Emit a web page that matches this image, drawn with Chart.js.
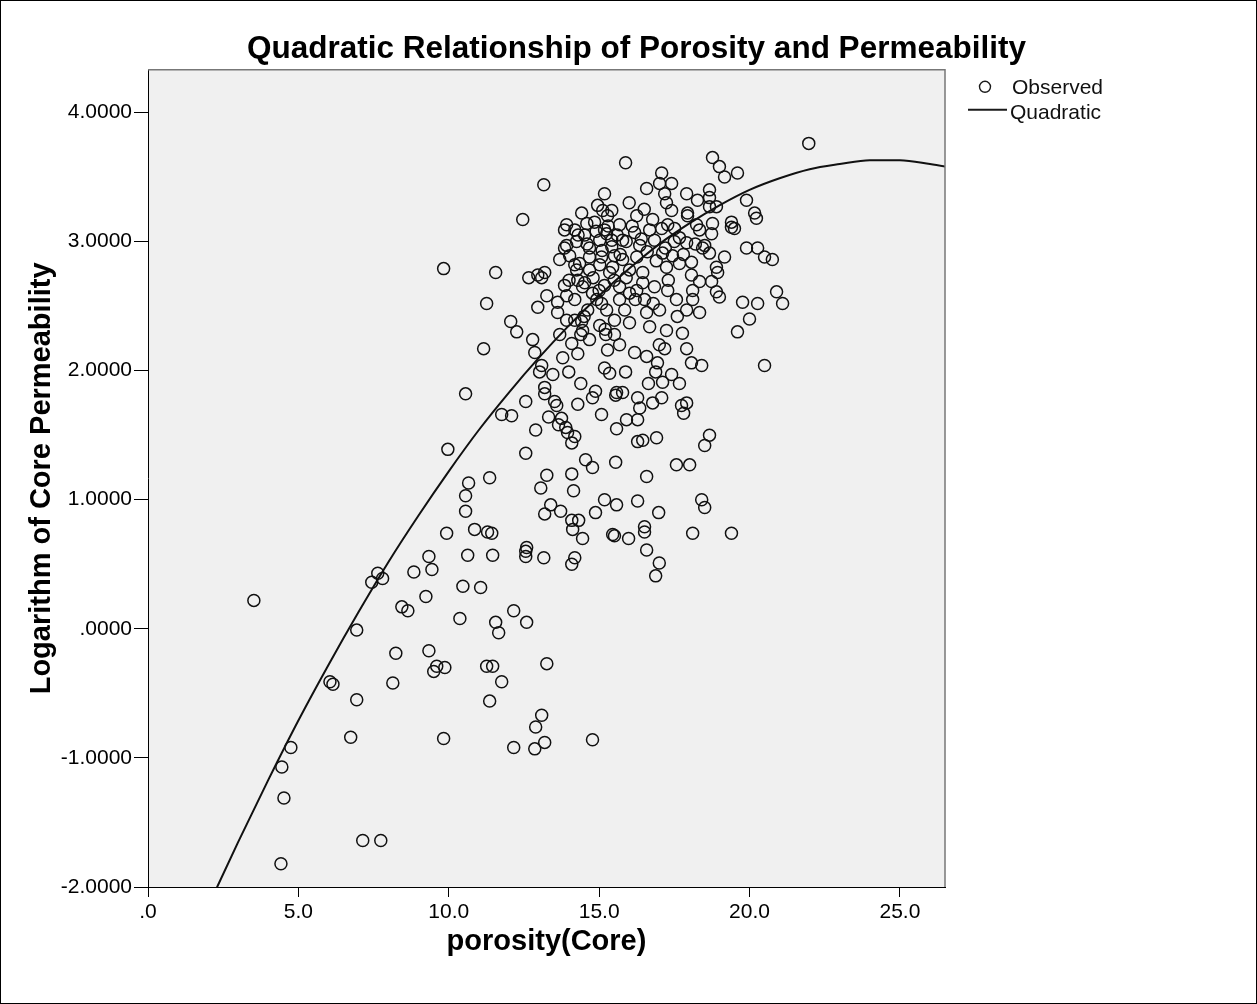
<!DOCTYPE html>
<html>
<head>
<meta charset="utf-8">
<script src="https://cdn.jsdelivr.net/npm/chart.js@4.4.1/dist/chart.umd.min.js"></script>
<style>
  html, body { margin: 0; padding: 0; background: #fff; }
</style>
</head>
<body>
<canvas id="chart" width="1257" height="1004"></canvas>
<script>
const titleText = 'Quadratic Relationship of Porosity and Permeability';
const xTitle = 'porosity(Core)';
const yTitle = 'Logarithm of Core Permeability';
const seriesNames = ['Observed', 'Quadratic'];

// observed points (x = porosity, y = log permeability)
const porosity = [
  3.52, 7.64, 7.44, 7.80, 6.94, 6.05, 6.15, 6.94, 6.74, 4.75, 4.45, 4.52, 7.14, 7.74, 4.42,
  8.84, 9.34, 9.44, 8.44, 8.64, 9.24, 8.24, 9.34, 9.60, 9.50, 8.14, 9.83,
  9.83, 9.97, 9.93, 9.87,
  10.63, 11.46, 12.56, 12.56, 13.16, 14.09, 14.19, 16.58, 17.00, 16.88, 10.47, 11.06, 10.37, 11.56, 11.66,
  12.16, 12.59, 11.26, 11.46, 13.26, 11.76, 11.36, 13.09, 12.89, 12.16, 12.86, 13.19, 14.78,
  11.16, 10.56, 12.56, 12.89, 12.56, 11.76, 12.09, 12.26, 12.79, 12.86, 13.09, 13.02, 13.46, 13.19, 13.19,
  13.52, 13.59, 13.32, 13.75, 13.65, 13.89, 13.95, 14.19, 14.09, 13.79, 13.99, 14.09, 14.29, 14.39, 14.39,
  14.29, 14.88, 14.78, 15.08, 15.18, 15.35, 15.22, 15.51, 15.55, 15.58, 15.55, 14.55, 14.78, 13.26, 13.06,
  14.09, 14.15, 15.18, 14.88, 15.58, 13.39, 13.19, 13.72, 14.09, 14.32, 14.12, 14.45, 15.45, 10.66, 10.56,
  10.56, 11.36, 10.86, 11.29, 11.43, 12.59,
  19.60, 20.50, 16.18, 16.58, 17.18, 17.91, 18.07, 18.41, 16.94, 16.88, 17.41, 17.67, 16.64, 17.11, 15.88,
  15.58, 15.78, 16.28, 16.35, 16.28, 16.78, 17.08, 17.74, 17.91, 17.81, 15.91, 16.45, 16.91, 16.28, 18.67,
  18.51, 17.57, 18.01, 16.58, 18.41, 18.51, 16.28, 16.98, 15.98, 16.51, 16.51, 18.11, 19.40, 15.51,
  13.16, 15.18, 12.46, 11.56, 12.66, 12.96, 13.19, 13.09, 11.26, 12.06, 12.96, 13.26, 13.62, 13.92, 13.85,
  13.92, 13.85, 14.25, 14.35, 13.62, 13.92, 14.42, 14.45, 15.12, 15.42, 14.59, 14.25, 14.68, 15.08, 15.25,
  15.42, 14.52, 14.78, 15.08, 15.25, 15.35, 14.45,
  15.88, 18.77, 19.00, 19.17, 19.60, 17.08, 17.01, 17.41, 16.58, 17.18, 17.91, 18.67, 18.67, 19.90, 18.27,
  17.24, 17.41, 17.94, 18.67, 18.90, 20.17, 20.23, 19.40, 19.50, 19.40, 18.77, 18.74, 18.24, 17.94, 17.28,
  16.78, 16.25, 15.68, 19.90, 20.27, 20.50, 20.76, 20.90, 21.10, 20.27, 19.77, 20.00, 18.44, 19.17, 18.67,
  18.90, 18.94, 18.90, 19.00, 18.34, 18.11, 18.07, 18.74, 18.07, 17.91, 18.34, 17.77, 17.24, 16.68, 16.01,
  17.28, 16.84, 16.45, 16.45, 17.57, 18.11, 16.01, 15.68, 17.01, 16.58, 15.42, 15.78, 16.18, 16.68, 17.67,
  17.91, 17.11, 17.44, 17.67, 17.24, 16.25, 15.78, 15.45, 16.01,
  14.19, 14.52, 14.85, 15.02, 14.68, 14.02, 14.19, 14.29, 14.68, 15.02, 15.18, 14.92, 14.62, 14.19, 13.85,
  13.69, 13.92, 14.42, 14.95, 15.28, 15.18, 15.51, 15.68, 15.85, 15.02, 14.68, 14.19, 15.51, 15.68, 15.28,
  13.69, 16.25, 16.51, 16.35, 16.84, 17.08, 17.51, 18.34, 18.51,
  14.30, 14.60, 14.90, 15.10, 15.30, 15.60, 15.90, 16.10, 16.40, 16.60, 16.90, 17.20, 17.50, 17.80, 18.20,
  14.80, 15.50, 15.90, 16.20, 16.80, 17.30, 17.60, 14.50, 15.00, 15.70, 16.50, 16.00, 15.20, 14.00, 17.00,
  21.97
];
const logPerm = [
  0.22, 0.43, 0.36, 0.39, -0.01, -0.41, -0.43, -0.55, -0.84, -0.92, -1.07, -1.31, -1.64, -1.64, -1.82,
  0.44, 0.56, 0.46, 0.17, 0.14, 0.25, -0.19, -0.17, -0.29, -0.33, -0.42, -0.85,
  2.79, 1.39, 0.74, -0.30,
  0.57, 0.57, 0.56, 0.60, 0.55, 0.50, 0.55, 0.61, 0.51, 0.41, 0.33, 0.32, 0.08, 0.05, -0.03,
  0.14, 0.05, -0.29, -0.29, -0.27, -0.41, -0.56, -0.67, -0.76, -0.92, -0.93, -0.88, -0.86,
  2.17, 1.82, 1.76, 1.54, 1.36, 1.66, 1.65, 2.30, 2.24, 2.14, 2.04, 1.99, 1.97, 1.87, 1.82,
  1.76, 1.73, 1.64, 1.63, 1.58, 1.56, 1.52, 1.49, 1.44, 2.10, 1.99, 2.21, 2.13, 2.28, 1.90,
  1.74, 1.84, 1.79, 1.66, 2.02, 1.98, 2.28, 2.28, 1.81, 1.55, 1.29, 1.31, 1.25, 1.19, 1.09,
  1.20, 1.07, 1.00, 0.90, 0.96, 0.96, 0.89, 0.91, 0.84, 0.84, 0.77, 0.70, 0.73, 1.13, 1.03,
  0.91, 1.17, 0.77, 0.75, 0.74, 0.63,
  2.30, 2.04, 2.14, 2.11, 2.17, 2.17, 2.06, 2.04, 2.06, 1.99, 1.97, 1.90, 1.90, 1.91, 1.99,
  1.83, 1.83, 1.79, 1.71, 1.62, 1.75, 1.79, 1.73, 1.75, 1.67, 1.62, 1.46, 1.48, 1.45, 1.50,
  1.42, 1.27, 1.27, 1.18, 1.00, 0.94, 0.99, 0.90, 0.70, 0.79, 0.75, 0.74, 0.74, 0.72,
  3.44, 3.37, 3.17, 2.76, 2.72, 2.74, 2.76, 2.72, 2.52, 2.38, 2.49, 2.58, 2.53, 2.58, 3.09,
  3.13, 2.95, 2.78, 2.83, 2.45, 2.39, 2.38, 2.31, 3.24, 3.24, 3.14, 3.00, 2.88, 2.88, 3.06,
  2.96, 2.68, 2.60, 2.52, 2.47, 2.76, 2.65,
  3.61, 3.65, 3.58, 3.50, 3.53, 3.53, 3.45, 3.45, 3.41, 3.37, 3.37, 3.40, 3.34, 3.32, 3.32,
  3.30, 3.24, 3.22, 3.27, 3.27, 3.22, 3.18, 3.15, 3.10, 3.11, 3.14, 3.06, 3.13, 3.20, 3.13,
  3.17, 3.20, 3.13, 2.95, 2.95, 2.88, 2.86, 2.61, 2.52, 2.52, 2.53, 2.40, 2.95, 2.88, 2.91,
  2.80, 2.76, 2.61, 2.57, 2.69, 2.62, 2.74, 2.69, 2.84, 2.47, 2.45, 2.29, 2.31, 2.34, 2.37,
  2.62, 2.65, 2.76, 2.68, 2.55, 2.55, 2.60, 2.65, 2.47, 2.45, 3.01, 3.01, 3.07, 3.09, 3.03,
  2.99, 2.91, 2.89, 2.83, 2.80, 2.88, 2.86, 2.80, 2.78,
  3.09, 3.05, 3.15, 3.01, 2.95, 2.89, 2.82, 2.70, 2.78, 2.82, 2.66, 2.55, 2.47, 2.55, 2.66,
  2.86, 2.97, 3.22, 3.28, 3.20, 3.09, 2.89, 2.55, 2.47, 2.35, 2.24, 2.39, 2.39, 2.20, 2.16,
  2.28, 2.62, 2.55, 2.97, 3.01, 3.10, 3.10, 3.09, 2.97,
  3.05, 2.98, 3.08, 2.93, 3.12, 3.05, 3.00, 3.12, 3.02, 2.92, 2.85, 2.95, 3.00, 2.90, 2.98,
  2.72, 2.70, 2.72, 2.55, 2.52, 2.70, 2.42, 2.42, 2.62, 2.90, 3.25, 3.30, 2.32, 2.70, 2.20,
  3.76
];

// fitted quadratic curve
const curveX = [2, 3, 4, 5, 6, 7, 8, 9, 10, 11, 12, 13, 14, 15, 16, 17, 18, 19, 20, 21, 22, 23, 24, 25, 26, 27];
const curveY = [-2.15, -1.65, -1.17, -0.71, -0.28, 0.13, 0.52, 0.88, 1.22, 1.54, 1.83, 2.10, 2.35, 2.58, 2.79,
  2.98, 3.14, 3.28, 3.40, 3.49, 3.56, 3.60, 3.63, 3.63, 3.60, 3.56];

const xTicks = [0, 5, 10, 15, 20, 25];
const yTicks = [-2, -1, 0, 1, 2, 3, 4];

const family = '"Liberation Sans", Arial, sans-serif';

const observed = porosity.map((x, i) => ({x: x, y: logPerm[i]}));
const fitted = curveX.map((x, i) => ({x: x, y: curveY[i]}));

const plotStyle = {
  id: 'plotStyle',
  beforeDraw: (chart) => {
    const {ctx, chartArea} = chart;
    ctx.save();
    ctx.fillStyle = '#fff';
    ctx.fillRect(0, 0, chart.width, chart.height);
    ctx.fillStyle = '#f0f0f0';
    ctx.fillRect(chartArea.left, chartArea.top, chartArea.right - chartArea.left, chartArea.bottom - chartArea.top);
    ctx.restore();
  },
  afterDraw: (chart) => {
    const {ctx, chartArea} = chart;
    ctx.save();
    // top and right edge of the plot frame
    ctx.strokeStyle = '#777';
    ctx.lineWidth = 1.5;
    ctx.beginPath();
    ctx.moveTo(chartArea.left, chartArea.top);
    ctx.lineTo(chartArea.right, chartArea.top);
    ctx.lineTo(chartArea.right, chartArea.bottom);
    ctx.stroke();
    // outer frame of the picture
    ctx.strokeStyle = '#000';
    ctx.lineWidth = 1;
    ctx.strokeRect(0.5, 0.5, chart.width - 1, chart.height - 1);

    // legend
    const lx = chartArea.right;
    const ly = chartArea.top;
    ctx.font = '21px ' + family;
    ctx.fillStyle = '#111';
    ctx.textBaseline = 'middle';
    ctx.textAlign = 'left';
    ctx.strokeStyle = '#1a1a1a';
    ctx.lineWidth = 1.4;
    ctx.beginPath();
    ctx.arc(lx + 40, ly + 17, 5.5, 0, Math.PI * 2);
    ctx.stroke();
    ctx.fillText(chart.data.datasets[0].label, lx + 67, ly + 18);
    ctx.lineWidth = 2;
    ctx.beginPath();
    ctx.moveTo(lx + 23, ly + 40);
    ctx.lineTo(lx + 62, ly + 40);
    ctx.stroke();
    ctx.fillText(chart.data.datasets[1].label, lx + 65, ly + 43);
    ctx.restore();
  }
};

const tickFont = {family: family, size: 21};

new Chart(document.getElementById('chart'), {
  type: 'scatter',
  data: {
    datasets: [
      {
        label: seriesNames[0],
        data: observed,
        pointRadius: 6,
        pointHoverRadius: 6,
        pointBorderWidth: 1.5,
        borderColor: '#111',
        backgroundColor: 'rgba(0,0,0,0)',
        order: 2
      },
      {
        label: seriesNames[1],
        data: fitted,
        showLine: true,
        borderColor: '#111',
        borderWidth: 2,
        pointRadius: 0,
        fill: false,
        cubicInterpolationMode: 'monotone',
        order: 1
      }
    ]
  },
  options: {
    responsive: false,
    animation: false,
    devicePixelRatio: 1,
    layout: {padding: {left: 16, right: 0, top: 0, bottom: 0}},
    plugins: {
      legend: {display: false},
      tooltip: {enabled: false},
      title: {
        display: true,
        text: titleText,
        color: '#000',
        font: {family: family, size: 31.5, weight: 'bold'},
        padding: {top: 30, bottom: 2}
      }
    },
    scales: {
      x: {
        type: 'linear',
        min: 0,
        max: 26.5,
        afterFit: (s) => { s.height = 117; },
        afterBuildTicks: (s) => { s.ticks = xTicks.map(v => ({value: v})); },
        ticks: {
          color: '#000',
          font: tickFont,
          padding: 3,
          maxRotation: 0,
          autoSkip: false,
          callback: (v) => v === 0 ? '.0' : v.toFixed(1)
        },
        grid: {drawOnChartArea: false, drawTicks: true, tickLength: 10, color: '#000'},
        border: {color: '#000', width: 1},
        title: {
          display: true,
          text: xTitle,
          color: '#000',
          font: {family: family, size: 29, weight: 'bold'},
          padding: {top: 0, bottom: 45}
        }
      },
      y: {
        type: 'linear',
        min: -2,
        max: 4.33,
        afterFit: (s) => { s.width = 132; },
        afterBuildTicks: (s) => { s.ticks = yTicks.map(v => ({value: v})); },
        ticks: {
          color: '#000',
          font: tickFont,
          padding: 2,
          autoSkip: false,
          callback: (v) => v === 0 ? '.0000' : v.toFixed(4)
        },
        grid: {drawOnChartArea: false, drawTicks: true, tickLength: 14, color: '#000'},
        border: {color: '#000', width: 1},
        title: {
          display: true,
          text: yTitle,
          color: '#000',
          font: {family: family, size: 29, weight: 'bold'},
          padding: {top: 9, bottom: 0}
        }
      },
      pad: {
        type: 'linear',
        position: 'right',
        display: true,
        grid: {display: false},
        ticks: {display: false},
        border: {display: false},
        afterFit: (s) => { s.width = 312; }
      }
    }
  },
  plugins: [plotStyle]
});
</script>
</body>
</html>
